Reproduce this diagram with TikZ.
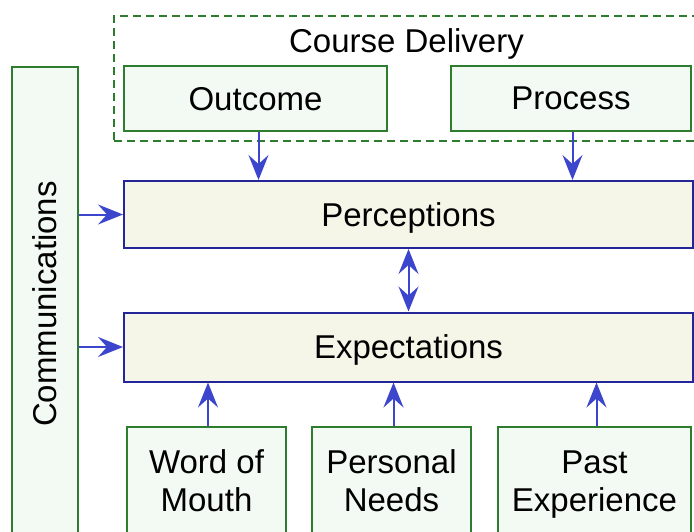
\documentclass[tikz,border=0pt]{standalone}
\usepackage{fontspec}
\setmainfont{Liberation Sans}
\usetikzlibrary{arrows.meta}
\definecolor{grline}{HTML}{2E7D2E}
\definecolor{grfill}{HTML}{F3FAF3}
\definecolor{bline}{HTML}{25259A}
\definecolor{yfill}{HTML}{F6F6E8}
\definecolor{arrc}{HTML}{3C46CC}
\tikzset{
  bigtext/.style={font=\fontsize{33}{38}\selectfont, text depth=0pt},
  gbox/.style={draw=grline, fill=grfill, line width=2pt, rectangle, inner sep=0pt, align=center, bigtext},
  bbox/.style={draw=bline, fill=yfill, line width=2pt, rectangle, inner sep=0pt, align=center, bigtext},
  tip/.tip={Stealth[length=25pt,width=20pt,inset=9pt]},
  arr/.style={draw=arrc, line width=2pt, -tip},
  darr/.style={draw=arrc, line width=2pt, tip-tip},
  dbox/.style={draw=grline, dash pattern=on 8pt off 5pt, line width=1.6pt, rectangle, inner sep=0pt},
}
\begin{document}
\begin{tikzpicture}[x=1pt,y=-1pt]
\useasboundingbox (0,0) rectangle (694,531);
% container
\node[dbox, minimum width=588pt, minimum height=125pt] (deliv) at (408,78.5) {};
\node[bigtext] (dlabel) at (406.5,41) {Course Delivery};
\node[gbox, minimum width=263pt, minimum height=65pt] (outc) at (255.5,98.5) {Outcome};
\node[gbox, minimum width=240pt, minimum height=65pt] (proc) at (571,98.5) {Process};
% communications
\node[gbox, rotate=90, minimum width=474pt, minimum height=66pt] (comm) at (45,304) {Communications};
% main boxes
\node[bbox, minimum width=569pt, minimum height=67pt] (perc) at (408.5,214.5) {Perceptions};
\node[bbox, minimum width=569pt, minimum height=69pt] (expe) at (408.5,347) {Expectations};
% bottom boxes
\node[gbox, minimum width=159pt, minimum height=108pt] (wom) at (206.5,481) {Word of\\Mouth};
\node[gbox, minimum width=159pt, minimum height=108pt] (pneed) at (391.5,481) {Personal\\Needs};
\node[gbox, minimum width=193pt, minimum height=108pt] (pexp) at (594.5,481) {Past\\Experience};
% arrows
\draw[arr] ([xshift=3pt]outc.south) -- ([xshift=3pt]outc.south |- perc.north);
\draw[arr] ([xshift=1.5pt]proc.south) -- ([xshift=1.5pt]proc.south |- perc.north);
\draw[arr] (comm.south |- perc.west) -- (perc.west);
\draw[arr] (comm.south |- expe.west) -- (expe.west);
\draw[darr] (perc.south) -- (expe.north);
\draw[arr] ([xshift=1.5pt]wom.north) -- ([xshift=1.5pt]wom.north |- expe.south);
\draw[arr] ([xshift=2pt]pneed.north) -- ([xshift=2pt]pneed.north |- expe.south);
\draw[arr] ([xshift=2pt]pexp.north) -- ([xshift=2pt]pexp.north |- expe.south);
\end{tikzpicture}
\end{document}
